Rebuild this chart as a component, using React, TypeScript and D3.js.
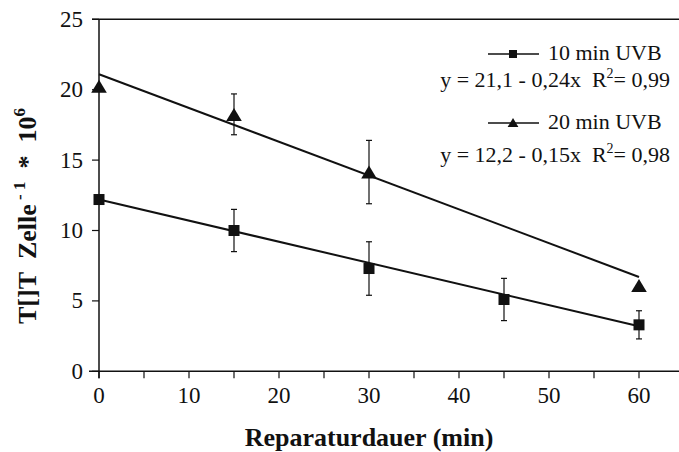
import * as d3 from "d3";

// Reparaturdauer (min)
const timesSquare = [0, 15, 30, 45, 60];
const valuesSquare = [12.2, 10.0, 7.3, 5.1, 3.3];
const errLowSquare = [null, 8.5, 5.4, 3.6, 2.3];
const errHighSquare = [null, 11.5, 9.2, 6.6, 4.3];

const timesTriangle = [0, 15, 30, 60];
const valuesTriangle = [20.2, 18.2, 14.1, 6.05];
const errLowTriangle = [null, 16.8, 11.9, null];
const errHighTriangle = [null, 19.7, 16.4, null];

// fit lines: [intercept, slope]
const fitTriangle = [21.1, -0.24];
const fitSquare = [12.2, -0.15];

const xTicks = [0, 10, 20, 30, 40, 50, 60];
const xMinorTicks = [5, 15, 25, 35, 45, 55];
const yTicks = [0, 5, 10, 15, 20, 25];

const NB = "\u00a0";
const legendLabels = ["10 min UVB", "20 min UVB"];
const legendEquations = [`y = 21,1 - 0,24x${NB}${NB}R`, `y = 12,2 - 0,15x${NB}${NB}R`];
const legendR2 = ["= 0,99", "= 0,98"];

const FONT = "'Liberation Serif', 'Times New Roman', serif";

export default function App() {
  const W = 679;
  const H = 452;
  const x = d3.scaleLinear().domain([0, 60]).range([99, 639]);
  const y = d3.scaleLinear().domain([0, 25]).range([371.3, 19.3]);
  const xEnd = 679;

  const fitLine = (f: number[]) =>
    d3.line<number>()
      .x((t) => x(t))
      .y((t) => y(f[0] + f[1] * t))([0, 60]) as string;

  const triPath = (cx: number, cy: number, s: number) =>
    `M${cx},${cy - s * 0.55}L${cx + s * 0.6},${cy + s * 0.45}L${cx - s * 0.6},${cy + s * 0.45}Z`;

  const errBars = (ts: number[], lo: (number | null)[], hi: (number | null)[]) =>
    ts.map((t, i) => {
      if (lo[i] == null || hi[i] == null) return null;
      const cx = x(t);
      const y1 = y(lo[i] as number);
      const y2 = y(hi[i] as number);
      return (
        <g key={"e" + i} stroke="#111" strokeWidth={1.2}>
          <line x1={cx} x2={cx} y1={y1} y2={y2} />
          <line x1={cx - 3} x2={cx + 3} y1={y1} y2={y1} />
          <line x1={cx - 3} x2={cx + 3} y1={y2} y2={y2} />
        </g>
      );
    });

  const legendY = [54, 123];
  const eqBase = [87, 162];

  return (
    <svg
      width={W}
      height={H}
      style={{ position: "absolute", left: 0, top: 0, background: "#fff" }}
      fontFamily={FONT}
    >
      {/* axes */}
      <line x1={92} x2={xEnd} y1={y(25)} y2={y(25)} stroke="#111" strokeWidth={1.5} />
      <line x1={89} x2={xEnd} y1={y(0)} y2={y(0)} stroke="#111" strokeWidth={1.5} />
      <line x1={x(0)} x2={x(0)} y1={y(25)} y2={y(0) + 7} stroke="#111" strokeWidth={1.5} />
      {yTicks.map((v) => (
        <g key={"y" + v}>
          <line x1={92} x2={x(0)} y1={y(v)} y2={y(v)} stroke="#111" strokeWidth={1.2} />
          <text x={83} y={y(v) + 7.5} textAnchor="end" fontSize={23} fill="#111">
            {v}
          </text>
        </g>
      ))}
      {xTicks.concat(xMinorTicks).map((v) => (
        <line key={"xt" + v} x1={x(v)} x2={x(v)} y1={y(0)} y2={y(0) + 7} stroke="#111" strokeWidth={1.2} />
      ))}
      {xTicks.map((v) => (
        <text key={"xl" + v} x={x(v)} y={403} textAnchor="middle" fontSize={23} fill="#111">
          {v}
        </text>
      ))}

      {/* titles */}
      <text x={369} y={446} textAnchor="middle" fontSize={26} fontWeight="bold" fill="#111">
        Reparaturdauer (min)
      </text>
      <text
        transform="translate(36,216) rotate(-90)"
        textAnchor="middle"
        fontSize={26}
        fontWeight="bold"
        fill="#111"
      >
        {`T[]T${NB}${NB}Zelle`}
        <tspan dy={-11} fontSize={17}>
          {`${NB}-${NB}1`}
        </tspan>
        <tspan dy={11}>{`${NB}${NB}*${NB}${NB}10`}</tspan>
        <tspan dy={-11} fontSize={17}>
          6
        </tspan>
      </text>

      {/* fit lines */}
      <path d={fitLine(fitTriangle)} fill="none" stroke="#111" strokeWidth={2} />
      <path d={fitLine(fitSquare)} fill="none" stroke="#111" strokeWidth={2} />

      {/* error bars */}
      {errBars(timesTriangle, errLowTriangle, errHighTriangle)}
      {errBars(timesSquare, errLowSquare, errHighSquare)}

      {/* markers */}
      {timesTriangle.map((t, i) => (
        <path key={"t" + i} d={triPath(x(t), y(valuesTriangle[i]), 13)} fill="#111" />
      ))}
      {timesSquare.map((t, i) => (
        <rect
          key={"s" + i}
          x={x(t) - 5.5}
          y={y(valuesSquare[i]) - 5.5}
          width={11}
          height={11}
          fill="#111"
        />
      ))}

      {/* legend */}
      {legendLabels.map((lab, i) => (
        <g key={"lg" + i}>
          <line x1={488} x2={539} y1={legendY[i]} y2={legendY[i]} stroke="#111" strokeWidth={1.5} />
          {i === 0 ? (
            <rect x={509} y={legendY[i] - 4} width={8} height={8} fill="#111" />
          ) : (
            <path d={triPath(513, legendY[i], 9)} fill="#111" />
          )}
          <text x={548} y={legendY[i] + 6} fontSize={22} fill="#111">
            {lab}
          </text>
          <text x={670} y={eqBase[i]} textAnchor="end" fontSize={22} fill="#111">
            {legendEquations[i]}
            <tspan dy={-9} fontSize={14}>
              2
            </tspan>
            <tspan dy={9}>{legendR2[i]}</tspan>
          </text>
        </g>
      ))}
    </svg>
  );
}
